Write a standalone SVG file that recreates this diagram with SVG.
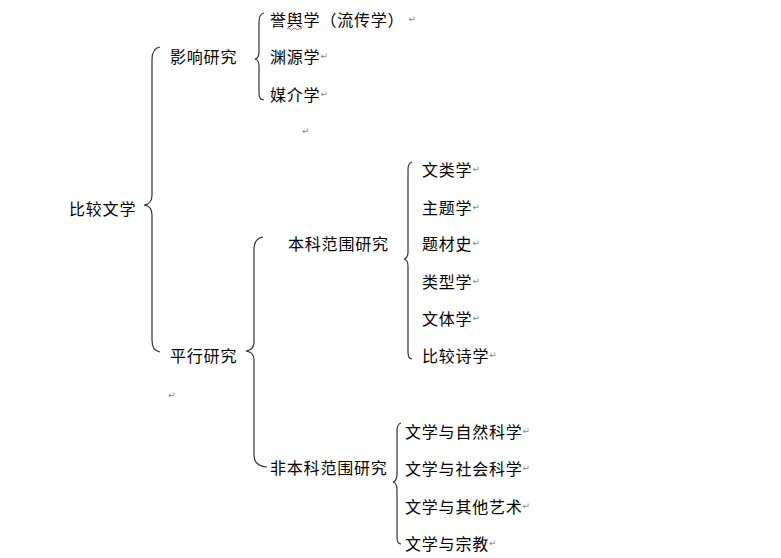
<svg xmlns="http://www.w3.org/2000/svg" width="781" height="558" viewBox="0 0 781 558">
<style>
text{font-family:"Noto Sans CJK SC","Noto Sans",sans-serif;font-size:16px;fill:#000;dominant-baseline:central;letter-spacing:0.8px}
.rm{font-family:"DejaVu Sans",sans-serif;font-size:9px;fill:#888;letter-spacing:0}
.br{fill:none;stroke:#333;stroke-width:1.2}
</style>
<rect width="781" height="558" fill="#fff"/>
<g id="connectors">
<path class="br" d="M160,47 Q152,48 152,60 L152,195 Q152,204 144,205 Q152,206 152,215 L152,340 Q152,351 160,352"/>
<path class="br" d="M264,13 Q259,14 259,22 L259,52 Q259,58 255,59 Q259,60 259,66 L259,93 Q259,100 264,100"/>
<path class="br" d="M263,237 Q254,238 254,250 L254,342 Q254,350 246,351 Q254,352 254,360 L254,455 Q254,466 267,467"/>
<path class="br" d="M412,162 Q408,163 408,170 L408,252 Q408,258 404,259 Q408,260 408,266 L408,352 Q408,359 412,359"/>
<path class="br" d="M401,423 Q397,424 397,431 L397,474 Q397,481 393,482 Q397,483 397,490 L397,537 Q397,544 401,544"/>
</g>
<g id="root"><text x="69" y="208">比较文学</text></g>
<g id="influence"><text x="170" y="56">影响研究</text></g>
<g id="n-yuyu"><text x="270" y="19">誉舆学（流传学）<tspan class="rm" dx="4">↵</tspan></text>
<path d="M287,29 q1.5,-2 3,0 t3,0 t3,0 t3,0 t3,0" fill="none" stroke="#e03030" stroke-width="0.9"/></g>
<g id="n-yuanyuan"><text x="270" y="56">渊源学<tspan class="rm">↵</tspan></text></g>
<g id="n-meijie"><text x="270" y="94">媒介学<tspan class="rm">↵</tspan></text></g>
<g id="mark1"><text class="rm" x="302" y="131">↵</text></g>
<g id="parallel"><text x="170" y="355">平行研究</text></g>
<g id="mark2"><text class="rm" x="168" y="395">↵</text></g>
<g id="benke"><text x="288" y="243">本科范围研究</text></g>
<g id="n1"><text x="422" y="169">文类学<tspan class="rm">↵</tspan></text></g>
<g id="n2"><text x="422" y="207">主题学<tspan class="rm">↵</tspan></text></g>
<g id="n3"><text x="422" y="243">题材史<tspan class="rm">↵</tspan></text></g>
<g id="n4"><text x="422" y="281">类型学<tspan class="rm">↵</tspan></text></g>
<g id="n5"><text x="422" y="318">文体学<tspan class="rm">↵</tspan></text></g>
<g id="n6"><text x="422" y="355">比较诗学<tspan class="rm">↵</tspan></text></g>
<g id="feibenke"><text x="270" y="467">非本科范围研究</text></g>
<g id="m1"><text x="405" y="431">文学与自然科学<tspan class="rm">↵</tspan></text></g>
<g id="m2"><text x="405" y="468">文学与社会科学<tspan class="rm">↵</tspan></text></g>
<g id="m3"><text x="405" y="506">文学与其他艺术<tspan class="rm">↵</tspan></text></g>
<g id="m4"><text x="405" y="543">文学与宗教<tspan class="rm">↵</tspan></text></g>
</svg>
